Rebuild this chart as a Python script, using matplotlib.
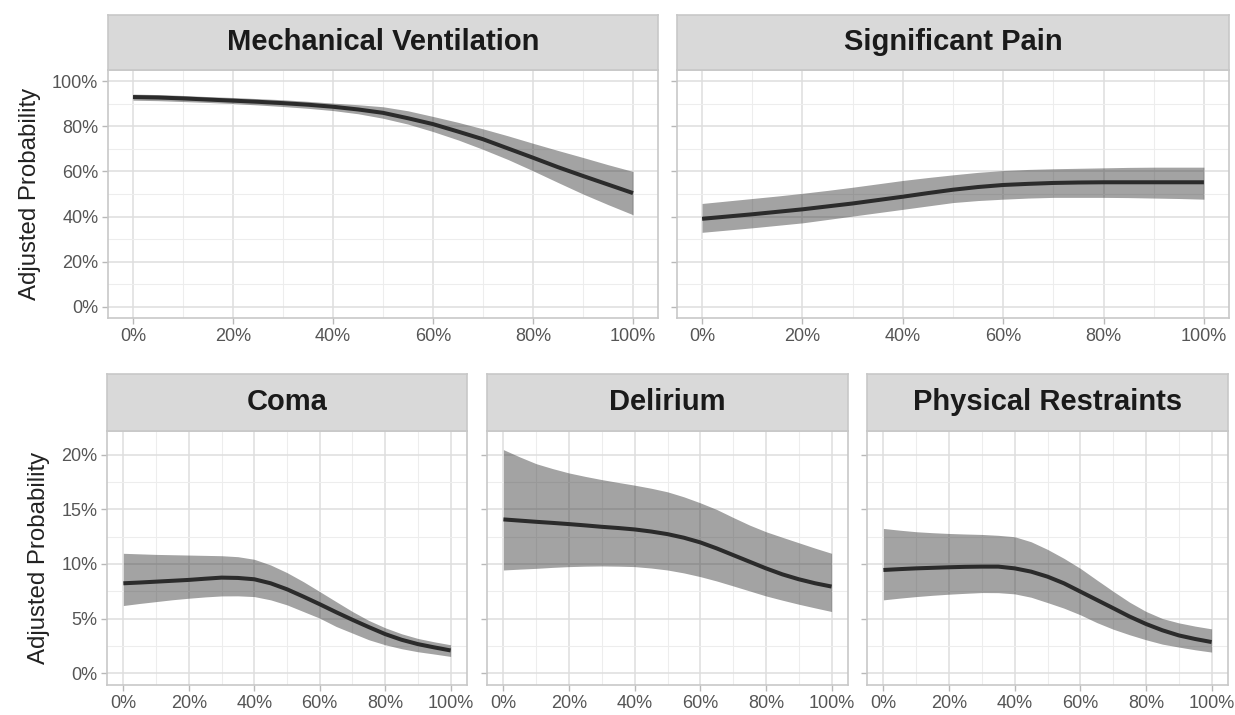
import matplotlib
matplotlib.use("Agg")
import matplotlib.pyplot as plt
from matplotlib.ticker import FuncFormatter, MultipleLocator

plt.rcParams['font.family'] = ['Liberation Sans', 'DejaVu Sans']

# ---- data (x = proportion, in %) ----
x_pct = [0, 5, 10, 15, 20, 25, 30, 35, 40, 45, 50, 55, 60, 65, 70, 75, 80, 85, 90, 95, 100]

mv_fit = [93.0, 92.8, 92.4, 91.9, 91.4, 90.9, 90.3, 89.6, 88.7, 87.5, 86.0, 83.6, 81.0, 77.7, 74.3, 70.2, 66.1, 61.9, 58.0, 54.2, 50.4]
mv_hi = [94.3, 94.1, 93.7, 93.2, 92.8, 92.3, 91.8, 91.1, 90.3, 89.6, 88.7, 86.9, 84.4, 81.8, 78.9, 75.8, 72.5, 69.3, 66.2, 63.0, 60.0]
mv_lo = [91.6, 91.4, 91.0, 90.6, 90.1, 89.5, 88.8, 88.0, 87.0, 85.6, 83.6, 81.0, 77.7, 74.0, 69.8, 65.3, 60.3, 55.1, 50.0, 45.3, 40.8]

sp_fit = [39.0, 40.0, 41.0, 42.1, 43.2, 44.5, 45.8, 47.3, 48.8, 50.4, 51.9, 53.1, 54.0, 54.5, 54.9, 55.1, 55.2, 55.2, 55.2, 55.2, 55.2]
sp_hi = [45.8, 46.9, 48.0, 49.1, 50.3, 51.6, 53.0, 54.5, 56.0, 57.3, 58.5, 59.6, 60.4, 60.9, 61.2, 61.4, 61.6, 61.8, 61.9, 61.9, 61.9]
sp_lo = [33.0, 34.0, 35.0, 36.1, 37.2, 38.7, 40.2, 41.7, 43.2, 44.7, 46.2, 47.1, 47.7, 48.2, 48.5, 48.5, 48.5, 48.4, 48.2, 48.0, 47.7]

co_fit = [8.23, 8.3, 8.38, 8.46, 8.54, 8.65, 8.75, 8.72, 8.6, 8.23, 7.68, 7.01, 6.31, 5.58, 4.88, 4.21, 3.57, 3.05, 2.65, 2.35, 2.07]
co_hi = [10.98, 10.93, 10.88, 10.85, 10.82, 10.79, 10.76, 10.67, 10.43, 9.91, 9.21, 8.38, 7.47, 6.55, 5.64, 4.82, 4.15, 3.6, 3.17, 2.86, 2.59]
co_lo = [6.19, 6.38, 6.55, 6.72, 6.86, 6.98, 7.07, 7.08, 7.01, 6.71, 6.25, 5.64, 5.03, 4.27, 3.66, 3.05, 2.59, 2.23, 1.95, 1.74, 1.52]

de_fit = [14.09, 13.98, 13.87, 13.77, 13.66, 13.54, 13.41, 13.3, 13.17, 12.98, 12.74, 12.41, 11.98, 11.43, 10.82, 10.21, 9.6, 9.05, 8.6, 8.23, 7.93]
de_hi = [20.49, 19.82, 19.2, 18.75, 18.35, 18.03, 17.74, 17.48, 17.23, 16.95, 16.62, 16.16, 15.61, 15.0, 14.27, 13.57, 12.96, 12.45, 11.95, 11.45, 10.98]
de_lo = [9.45, 9.53, 9.6, 9.69, 9.76, 9.8, 9.82, 9.8, 9.76, 9.63, 9.45, 9.18, 8.84, 8.44, 7.99, 7.53, 7.07, 6.68, 6.31, 5.97, 5.64]

pr_fit = [9.45, 9.53, 9.6, 9.65, 9.7, 9.74, 9.76, 9.76, 9.6, 9.3, 8.84, 8.23, 7.47, 6.71, 5.95, 5.18, 4.5, 3.92, 3.45, 3.12, 2.84]
pr_hi = [13.26, 13.1, 12.96, 12.87, 12.8, 12.75, 12.71, 12.63, 12.5, 12.04, 11.34, 10.52, 9.6, 8.54, 7.5, 6.5, 5.65, 5.0, 4.6, 4.3, 4.05]
pr_lo = [6.71, 6.87, 7.01, 7.13, 7.23, 7.31, 7.38, 7.37, 7.26, 6.95, 6.46, 5.95, 5.34, 4.63, 4.02, 3.51, 3.05, 2.65, 2.38, 2.13, 1.92]

titles = ["Mechanical Ventilation", "Significant Pain", "Coma", "Delirium", "Physical Restraints"]
x_ticks = [0, 20, 40, 60, 80, 100]
top_yticks = [0, 20, 40, 60, 80, 100]
bot_yticks = [0, 5, 10, 15, 20]
y_label = "Adjusted Probability"

W, H = 1235, 715
fig = plt.figure(figsize=(W / 100, H / 100), dpi=100)
fig.patch.set_facecolor("white")

def fx(px):
    return px / W

def fy(py):
    return 1 - py / H

# (left, right, strip_top, strip_bottom, plot_bottom) in pixels
layout = [
    (108, 658, 15, 70, 318),
    (677, 1229, 15, 70, 318),
    (107, 467, 374, 431, 685),
    (487, 848, 374, 431, 685),
    (867, 1228, 374, 431, 685),
]
series = [
    (mv_fit, mv_lo, mv_hi),
    (sp_fit, sp_lo, sp_hi),
    (co_fit, co_lo, co_hi),
    (de_fit, de_lo, de_hi),
    (pr_fit, pr_lo, pr_hi),
]

pct = FuncFormatter(lambda v, p: f"{v:.0f}%")
for i, ((l, r, st, sb, pb), (fit, lo, hi), title) in enumerate(zip(layout, series, titles)):
    ax = fig.add_axes([fx(l), fy(pb), fx(r - l), (pb - sb) / H])
    top = i < 2
    ax.set_facecolor("white")
    ax.fill_between(x_pct, lo, hi, color="#333333", alpha=0.45, linewidth=0, zorder=2)
    ax.plot(x_pct, fit, color="#2b2b2b", linewidth=2.9, solid_capstyle="butt",
            solid_joinstyle="round", zorder=3)
    ax.set_xlim(-5, 105)
    if top:
        ax.set_ylim(-5, 105)
        ax.set_yticks(top_yticks)
        ax.yaxis.set_minor_locator(MultipleLocator(10))
    else:
        ax.set_ylim(-1.1, 22.2)
        ax.set_yticks(bot_yticks)
        ax.yaxis.set_minor_locator(MultipleLocator(2.5))
    ax.set_xticks(x_ticks)
    ax.xaxis.set_minor_locator(MultipleLocator(10))
    ax.xaxis.set_major_formatter(pct)
    ax.yaxis.set_major_formatter(pct)
    ax.grid(which="major", color="#dedede", linewidth=1.1, zorder=0)
    ax.grid(which="minor", color="#ededed", linewidth=0.8, zorder=0)
    ax.set_axisbelow(True)
    for s in ax.spines.values():
        s.set_color("#c8c8c8")
        s.set_linewidth(1.2)
    ax.tick_params(which="major", length=4, width=1, color="#b8b8b8", labelsize=13,
                   labelcolor="#555555", pad=3)
    ax.tick_params(which="minor", length=0)
    if i in (1, 3, 4):
        ax.tick_params(axis="y", labelleft=False)
    if i in (0, 2):
        ax.set_ylabel(y_label, fontsize=17.3, color="#222222", labelpad=8)

    # facet strip
    sax = fig.add_axes([fx(l), fy(sb), fx(r - l), (sb - st) / H])
    sax.set_facecolor("#d9d9d9")
    sax.set_xticks([])
    sax.set_yticks([])
    for s in sax.spines.values():
        s.set_color("#c8c8c8")
        s.set_linewidth(1.2)
    sax.text(0.5, 0.5, title, ha="center", va="center", fontsize=21, fontweight="bold",
             color="#1a1a1a", transform=sax.transAxes)

fig.savefig("out.png", dpi=100, facecolor="white")
